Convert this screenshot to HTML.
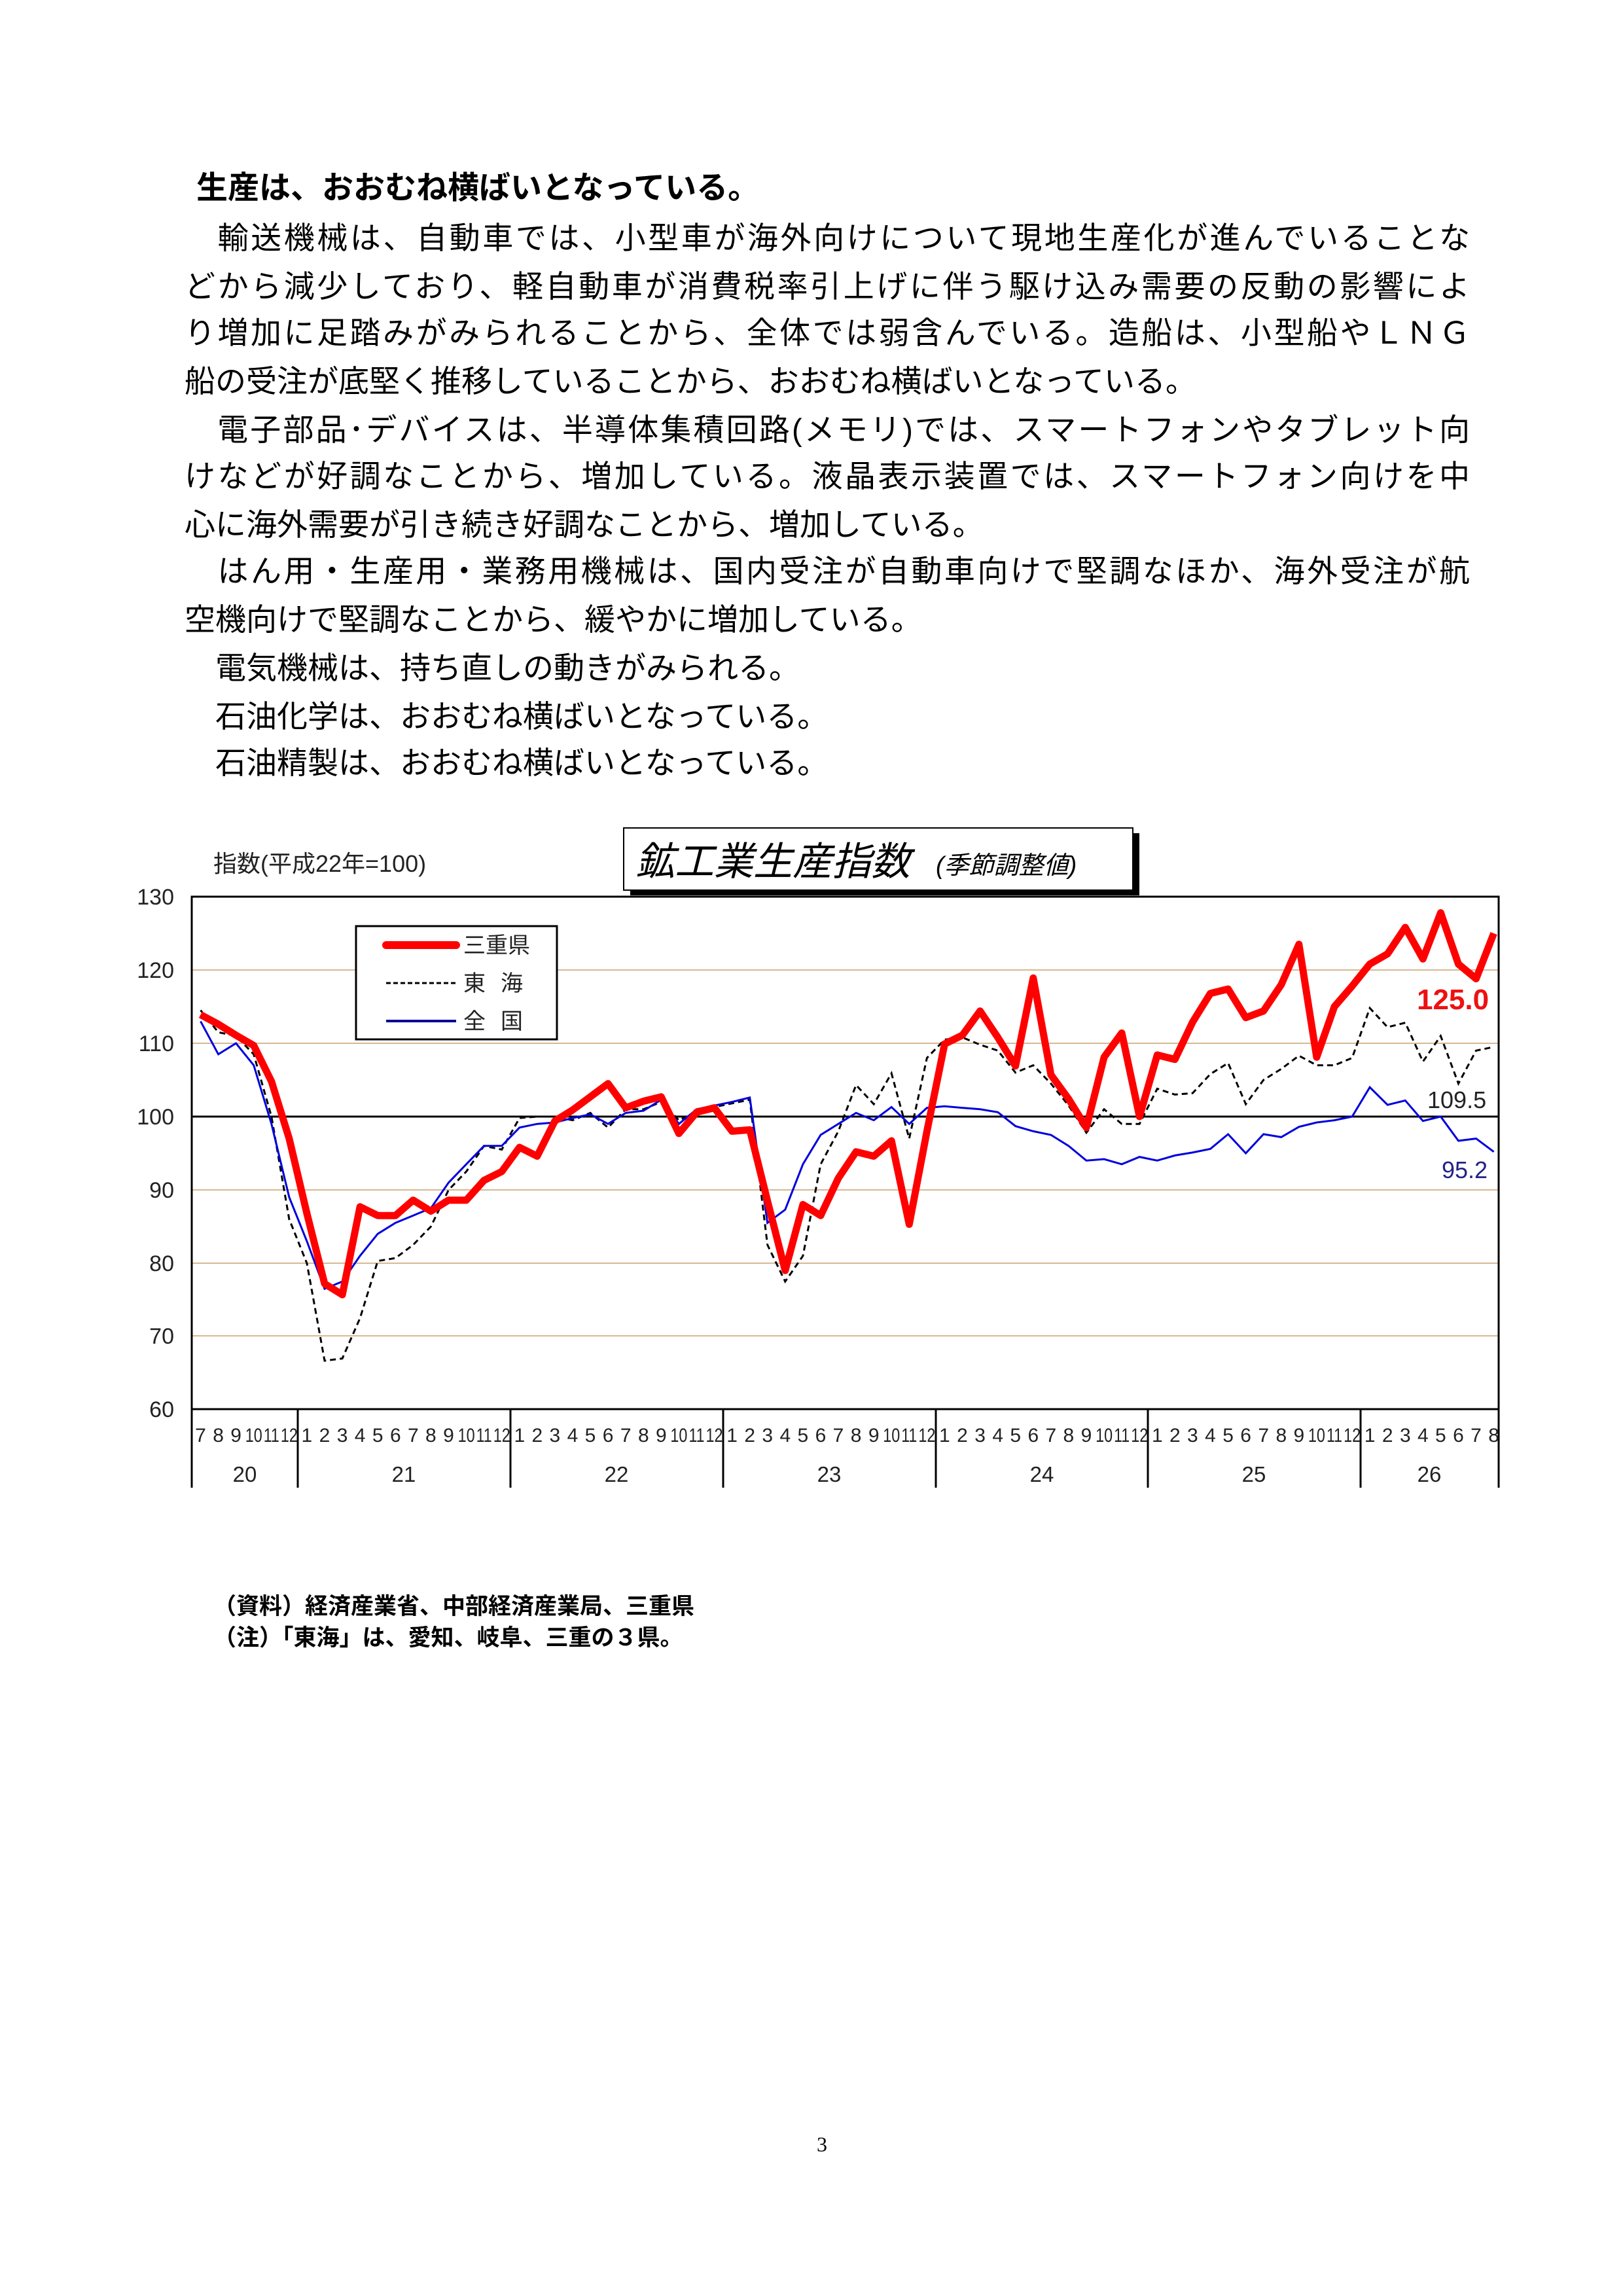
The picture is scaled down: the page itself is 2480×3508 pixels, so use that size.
<!DOCTYPE html>
<html><head><meta charset="utf-8">
<style>
html,body{margin:0;padding:0;background:#fff;}
body{width:2480px;height:3508px;position:relative;overflow:hidden;font-family:"Liberation Sans","Noto Sans CJK JP",sans-serif;color:#000;}
.l{position:absolute;left:282px;font-size:47px;line-height:60px;white-space:nowrap;font-family:"Liberation Sans","Noto Sans CJK JP",sans-serif;}
.j{width:1964px;text-align:justify;text-align-last:justify;}
.h{font-weight:bold;left:300px;font-size:48px;}
.n{position:absolute;left:326px;font-size:35px;font-weight:bold;white-space:nowrap;}
</style></head><body>
<div class="l h" style="top:258px">生産は、おおむね横ばいとなっている。</div>
<div class="l j" style="top:334px">　輸送機械は、自動車では、小型車が海外向けについて現地生産化が進んでいることな</div>
<div class="l j" style="top:408px">どから減少しており、軽自動車が消費税率引上げに伴う駆け込み需要の反動の影響によ</div>
<div class="l j" style="top:479px">り増加に足踏みがみられることから、全体では弱含んでいる。造船は、小型船やＬＮＧ</div>
<div class="l" style="top:553px">船の受注が底堅く推移していることから、おおむね横ばいとなっている。</div>
<div class="l j" style="top:627px">　電子部品･デバイスは、半導体集積回路(メモリ)では、スマートフォンやタブレット向</div>
<div class="l j" style="top:698px">けなどが好調なことから、増加している。液晶表示装置では、スマートフォン向けを中</div>
<div class="l" style="top:772px">心に海外需要が引き続き好調なことから、増加している。</div>
<div class="l j" style="top:843px">　はん用・生産用・業務用機械は、国内受注が自動車向けで堅調なほか、海外受注が航</div>
<div class="l" style="top:917px">空機向けで堅調なことから、緩やかに増加している。</div>
<div class="l" style="top:991px">　電気機械は、持ち直しの動きがみられる。</div>
<div class="l" style="top:1065px">　石油化学は、おおむね横ばいとなっている。</div>
<div class="l" style="top:1136px">　石油精製は、おおむね横ばいとなっている。</div>

<svg width="2480" height="2300" style="position:absolute;left:0;top:0" xmlns="http://www.w3.org/2000/svg" font-family="Liberation Sans, Noto Sans CJK JP, sans-serif">
<text x="326" y="1332" font-size="36" fill="#222">指数(平成22年=100)</text>
<rect x="963" y="1273" width="778" height="95" fill="#000"/>
<rect x="953" y="1265" width="778" height="95" fill="#fff" stroke="#000" stroke-width="2"/>
<text x="971" y="1337" font-size="60" font-style="italic">鉱工業生産指数</text>
<text x="1430" y="1335" font-size="38" font-style="italic">(季節調整値)</text>
<g stroke="#d8b893" stroke-width="2">
<line x1="293" x2="2290" y1="1482" y2="1482"/>
<line x1="293" x2="2290" y1="1594" y2="1594"/>
<line x1="293" x2="2290" y1="1818" y2="1818"/>
<line x1="293" x2="2290" y1="1930" y2="1930"/>
<line x1="293" x2="2290" y1="2041" y2="2041"/>
</g>
<line x1="293" x2="2290" y1="1706" y2="1706" stroke="#000" stroke-width="3"/>
<rect x="293" y="1370" width="1997" height="783" fill="none" stroke="#000" stroke-width="3"/>
<g font-size="34" text-anchor="end" fill="#222">
<text x="266" y="1382">130</text><text x="266" y="1494">120</text><text x="266" y="1606">110</text>
<text x="266" y="1718">100</text><text x="266" y="1830">90</text><text x="266" y="1942">80</text>
<text x="266" y="2053">70</text><text x="266" y="2165">60</text>
</g>
<g stroke="#000" stroke-width="3">
<line x1="293" x2="293" y1="2153" y2="2273"/><line x1="455" x2="455" y1="2153" y2="2273"/>
<line x1="780" x2="780" y1="2153" y2="2273"/><line x1="1105" x2="1105" y1="2153" y2="2273"/>
<line x1="1430" x2="1430" y1="2153" y2="2273"/><line x1="1754" x2="1754" y1="2153" y2="2273"/>
<line x1="2079" x2="2079" y1="2153" y2="2273"/><line x1="2290" x2="2290" y1="2153" y2="2273"/>
</g>
<g font-size="30" text-anchor="middle" fill="#222">
<text y="2203"><tspan x="306.5">7</tspan><tspan x="333.6">8</tspan><tspan x="360.6">9</tspan><tspan x="387.7" textLength="26" lengthAdjust="spacingAndGlyphs">10</tspan><tspan x="414.8" textLength="24" lengthAdjust="spacingAndGlyphs">11</tspan><tspan x="441.9" textLength="26" lengthAdjust="spacingAndGlyphs">12</tspan></text>
<text y="2203"><tspan x="468.9">1</tspan><tspan x="496.0">2</tspan><tspan x="523.1">3</tspan><tspan x="550.1">4</tspan><tspan x="577.2">5</tspan><tspan x="604.3">6</tspan><tspan x="631.3">7</tspan><tspan x="658.4">8</tspan><tspan x="685.5">9</tspan><tspan x="712.6" textLength="26" lengthAdjust="spacingAndGlyphs">10</tspan><tspan x="739.6" textLength="24" lengthAdjust="spacingAndGlyphs">11</tspan><tspan x="766.7" textLength="26" lengthAdjust="spacingAndGlyphs">12</tspan></text>
<text y="2203"><tspan x="793.8">1</tspan><tspan x="820.8">2</tspan><tspan x="847.9">3</tspan><tspan x="875.0">4</tspan><tspan x="902.0">5</tspan><tspan x="929.1">6</tspan><tspan x="956.2">7</tspan><tspan x="983.3">8</tspan><tspan x="1010.3">9</tspan><tspan x="1037.4" textLength="26" lengthAdjust="spacingAndGlyphs">10</tspan><tspan x="1064.5" textLength="24" lengthAdjust="spacingAndGlyphs">11</tspan><tspan x="1091.5" textLength="26" lengthAdjust="spacingAndGlyphs">12</tspan></text>
<text y="2203"><tspan x="1118.6">1</tspan><tspan x="1145.7">2</tspan><tspan x="1172.7">3</tspan><tspan x="1199.8">4</tspan><tspan x="1226.9">5</tspan><tspan x="1254.0">6</tspan><tspan x="1281.0">7</tspan><tspan x="1308.1">8</tspan><tspan x="1335.2">9</tspan><tspan x="1362.2" textLength="26" lengthAdjust="spacingAndGlyphs">10</tspan><tspan x="1389.3" textLength="24" lengthAdjust="spacingAndGlyphs">11</tspan><tspan x="1416.4" textLength="26" lengthAdjust="spacingAndGlyphs">12</tspan></text>
<text y="2203"><tspan x="1443.4">1</tspan><tspan x="1470.5">2</tspan><tspan x="1497.6">3</tspan><tspan x="1524.7">4</tspan><tspan x="1551.7">5</tspan><tspan x="1578.8">6</tspan><tspan x="1605.9">7</tspan><tspan x="1632.9">8</tspan><tspan x="1660.0">9</tspan><tspan x="1687.1" textLength="26" lengthAdjust="spacingAndGlyphs">10</tspan><tspan x="1714.1" textLength="24" lengthAdjust="spacingAndGlyphs">11</tspan><tspan x="1741.2" textLength="26" lengthAdjust="spacingAndGlyphs">12</tspan></text>
<text y="2203"><tspan x="1768.3">1</tspan><tspan x="1795.4">2</tspan><tspan x="1822.4">3</tspan><tspan x="1849.5">4</tspan><tspan x="1876.6">5</tspan><tspan x="1903.6">6</tspan><tspan x="1930.7">7</tspan><tspan x="1957.8">8</tspan><tspan x="1984.8">9</tspan><tspan x="2011.9" textLength="26" lengthAdjust="spacingAndGlyphs">10</tspan><tspan x="2039.0" textLength="24" lengthAdjust="spacingAndGlyphs">11</tspan><tspan x="2066.1" textLength="26" lengthAdjust="spacingAndGlyphs">12</tspan></text>
<text y="2203"><tspan x="2093.1">1</tspan><tspan x="2120.2">2</tspan><tspan x="2147.3">3</tspan><tspan x="2174.3">4</tspan><tspan x="2201.4">5</tspan><tspan x="2228.5">6</tspan><tspan x="2255.5">7</tspan><tspan x="2282.6">8</tspan></text>
</g>
<g font-size="33" text-anchor="middle" fill="#222">
<text x="374" y="2264">20</text><text x="617" y="2264">21</text><text x="942" y="2264">22</text>
<text x="1267" y="2264">23</text><text x="1592" y="2264">24</text><text x="1916" y="2264">25</text><text x="2184" y="2264">26</text>
</g>
<polyline id="tokai" fill="none" stroke="#000" stroke-width="3" stroke-dasharray="9,6"/>
<polyline id="zen" fill="none" stroke="#0000dd" stroke-width="3"/>
<polyline id="mie" fill="none" stroke="#ff0000" stroke-width="11" stroke-linejoin="round"/>
<rect x="544" y="1415" width="307" height="173" fill="#fff" stroke="#000" stroke-width="3"/>
<line x1="590" x2="697" y1="1444" y2="1444" stroke="#f00" stroke-width="12" stroke-linecap="round"/>
<line x1="590" x2="697" y1="1502" y2="1502" stroke="#000" stroke-width="3" stroke-dasharray="7,4"/>
<line x1="590" x2="697" y1="1560" y2="1560" stroke="#00009a" stroke-width="4"/>
<g font-size="34" fill="#222">
<text x="708" y="1456">三重県</text><text x="708" y="1514">東</text><text x="765" y="1514">海</text>
<text x="708" y="1572">全</text><text x="765" y="1572">国</text>
</g>
<text x="2165" y="1542" font-size="44" font-weight="bold" fill="#ee1111">125.0</text>
<text x="2181" y="1693" font-size="36" fill="#222">109.5</text>
<text x="2203" y="1800" font-size="36" fill="#222288">95.2</text>
</svg>
<div class="n" style="top:2426px">（資料）経済産業省、中部経済産業局、三重県</div>
<div class="n" style="top:2474px">（注）「東海」は、愛知、岐阜、三重の３県。</div>
<div style="position:absolute;left:1248px;top:3258px;font-size:32px;font-family:'Liberation Serif',serif;">3</div>
<script>
var mie=[113.9,112.6,111.1,109.7,104.8,97,
86.8,77.2,75.7,87.7,86.5,86.5,88.6,87.1,88.6,88.6,91.3,92.5,
95.8,94.6,99.4,100.9,102.7,104.5,101.2,102.1,102.7,97.7,100.6,101.2,
98,98.2,88.5,79,88,86.5,91.6,95.2,94.6,96.7,85.3,98,
109.9,111.1,114.4,110.8,106.9,118.9,105.7,102.4,98.5,108.1,111.4,100,
108.4,107.8,112.9,116.8,117.4,113.5,114.4,118,123.5,108.1,115,117.8,
120.8,122.2,125.8,121.5,127.8,120.8,118.8,125];
var tok=[114.5,111.5,111,108.5,100,86,
80,66.7,67,72.5,80.3,80.7,82.5,85,90,92.5,96,95.5,
99.8,100,100,99.5,100.5,98.5,101,101,102,99.5,100.6,101.3,
101.8,102.3,82.5,77.5,81,93.5,98,104.3,101.7,105.9,97,108,
110.5,110.8,109.8,109,106,107,104.5,101.5,97.8,101,99,99,
103.8,103,103.2,105.8,107.3,101.7,105,106.5,108.3,107,107,108,
114.8,112.2,112.8,107.5,111,104.5,109,109.5];
var zen=[113,108.5,110,107,99,89,
83,76.5,77.5,81,84,85.5,86.5,87.5,91,93.5,96,96,
98.5,99,99.2,99.8,100.3,99,100.5,100.8,102.3,99,101,101.5,
102,102.6,85.5,87.3,93.5,97.5,99,100.5,99.5,101.3,99,101.2,
101.4,101.2,101,100.6,98.7,98,97.5,96,94,94.2,93.5,94.5,
94,94.7,95.1,95.6,97.6,95,97.6,97.2,98.6,99.2,99.5,100,
104,101.6,102.2,99.4,100,96.7,97,95.2];
function pts(a){return a.map(function(v,i){return (306.5+27.07*i).toFixed(1)+","+(1706+(100-v)*11.2).toFixed(1);}).join(" ");}
document.getElementById("mie").setAttribute("points",pts(mie));
document.getElementById("tokai").setAttribute("points",pts(tok));
document.getElementById("zen").setAttribute("points",pts(zen));
</script>
</body></html>
